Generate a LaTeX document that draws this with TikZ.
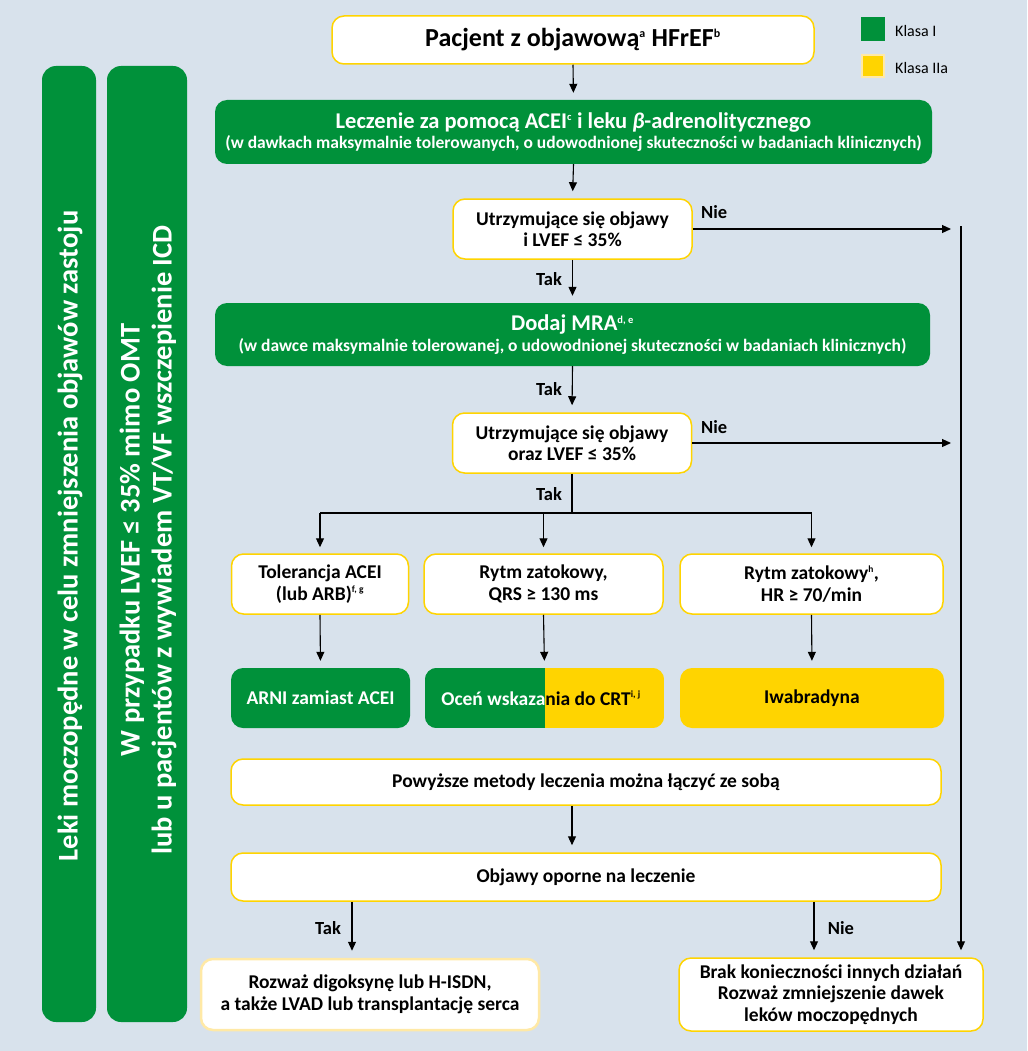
\documentclass[tikz,border=0pt]{standalone}
\usepackage{fontspec}
\setmainfont{Carlito}
\usetikzlibrary{arrows.meta}
\definecolor{bgc}{HTML}{D8E2EC}
\definecolor{gr}{HTML}{00913A}
\definecolor{ye}{HTML}{FFD400}
\definecolor{pale}{HTML}{FFE9A6}
\newcommand{\ssup}[2][9.5]{\textsuperscript{\fontsize{#1}{#1}\selectfont #2}}
\begin{document}
\begin{tikzpicture}[x=1pt,y=-1pt,
 box/.style={rounded corners=12pt, align=center, inner sep=0pt, font=\bfseries\fontsize{19.5}{21.5}\selectfont},
 wbox/.style={box, draw=ye, line width=1.5pt, fill=white, text=black},
 gbox/.style={box, fill=gr, text=white},
 ybox/.style={box, fill=ye, text=black},
 arr/.style={-{Triangle[length=9pt,width=8pt]}, line width=1.1pt, shorten >=7pt},
 ln/.style={line width=1.1pt},
 lbl/.style={font=\bfseries\fontsize{18.5}{20}\selectfont, inner sep=0pt},
 bartext/.style={rotate=90, text=white, align=center, font=\bfseries\fontsize{28.5}{32}\selectfont, inner sep=0pt},
 legtext/.style={anchor=west, font=\fontsize{16}{18}\selectfont, inner sep=0pt},
]
\fill[bgc] (0,0) rectangle (1027,1051);
\useasboundingbox (0,0) rectangle (1027,1051);

% legend
\node[fill=gr, minimum size=24pt, inner sep=0pt] (lg1) at (873,29) {};
\node[legtext] (lt1) at (895,31) {Klasa I};
\node[fill=ye, draw=pale, line width=2pt, minimum size=22pt, inner sep=0pt] (lg2) at (873,66) {};
\node[legtext] (lt2) at (895,68) {Klasa IIa};

% side bars
\node[gbox, rounded corners=14pt, minimum width=54pt, minimum height=956pt] (bar1) at (69,544) {};
\node[bartext] (bar1t) at (70,536) {Leki moczopędne w celu zmniejszenia objawów zastoju};
\node[gbox, rounded corners=14pt, minimum width=80pt, minimum height=956pt] (bar2) at (147,544) {};
\node[bartext] (bar2t) at (148,540) {W przypadku LVEF ≤ 35\% mimo OMT\\lub u pacjentów z wywiadem VT/VF wszczepienie ICD};

% main column
\node[wbox, minimum width=482pt, minimum height=48pt, font=\bfseries\fontsize{26}{28}\selectfont] (top) at (573,40)
  {Pacjent z objawową\ssup[12]{a} HFrEF\ssup[12]{b}};
\node[gbox, minimum width=717pt, minimum height=64pt] (g1) at (573.5,132)
  {{\fontsize{22.5}{24}\selectfont Leczenie za pomocą ACEI\ssup[10.5]{c} i leku \textit{β}-adrenolitycznego}\\[-1pt]
   {\fontsize{17.5}{19}\selectfont (w dawkach maksymalnie tolerowanych, o udowodnionej skuteczności w badaniach klinicznych)}};
\node[wbox, minimum width=239pt, minimum height=60pt] (d1) at (572.5,229)
  {Utrzymujące się objawy\\i LVEF ≤ 35\%};
\node[gbox, minimum width=715pt, minimum height=63pt] (g2) at (572.5,334.5)
  {{\fontsize{22.5}{24}\selectfont Dodaj MRA\ssup[10.5]{d, e}}\\[-1pt]
   {\fontsize{17.5}{19}\selectfont (w dawce maksymalnie tolerowanej, o udowodnionej skuteczności w badaniach klinicznych)}};
\node[wbox, minimum width=239pt, minimum height=60pt] (d2) at (572,443)
  {Utrzymujące się objawy\\oraz LVEF ≤ 35\%};

% three branches
\node[wbox, minimum width=177pt, minimum height=60pt] (A) at (320,584) {Tolerancja ACEI\\(lub ARB)\ssup{f, g}};
\node[wbox, minimum width=239pt, minimum height=60pt] (B) at (543.5,584) {Rytm zatokowy,\\QRS ≥ 130 ms};
\node[wbox, minimum width=263pt, minimum height=60pt] (C) at (811.5,584) {Rytm zatokowy\ssup{h},\\HR ≥ 70/min};

\node[gbox, minimum width=179pt, minimum height=60pt] (A2) at (320.5,698) {ARNI zamiast ACEI};
\node[box, minimum width=239pt, minimum height=60pt] (B2) at (544.5,698) {};
\coordinate (split) at (545,698);
\begin{scope}
  \clip[rounded corners=12pt] (B2.north west) rectangle (B2.south east);
  \fill[gr] (B2.north west) rectangle (split |- B2.south);
  \fill[ye] (split |- B2.north) rectangle (B2.south east);
\end{scope}
\begin{scope}
  \clip (B2.north west) rectangle (split |- B2.south);
  \node[box, text=white] (B2tl) at (541,698) {Oceń wskazania do CRT\ssup{i, j}};
\end{scope}
\begin{scope}
  \clip (split |- B2.north) rectangle (B2.south east);
  \node[box, text=black] (B2tr) at (541,698) {Oceń wskazania do CRT\ssup{i, j}};
\end{scope}
\node[ybox, minimum width=264pt, minimum height=60pt] (C2) at (812,698) {Iwabradyna};

\node[wbox, minimum width=710pt, minimum height=46pt] (P) at (586,782) {Powyższe metody leczenia można łączyć ze sobą};
\node[wbox, minimum width=710pt, minimum height=48pt] (O) at (586,877) {Objawy oporne na leczenie};

\node[wbox, draw=pale, line width=2.5pt, minimum width=338pt, minimum height=71pt] (BL) at (370,994.5)
  {Rozważ digoksynę lub H-ISDN,\\a także LVAD lub transplantację serca};
\node[wbox, minimum width=304pt, minimum height=73pt] (BR) at (831,994.5)
  {Brak konieczności innych działań\\Rozważ zmniejszenie dawek\\leków moczopędnych};

% connectors
\coordinate (rtop) at (961,226);
\coordinate (sp) at (572,513);
\coordinate (tk) at (352,928);
\coordinate (nk) at (814,928);

\draw[arr] (top.south) -- (g1.north);
\draw[arr] (g1.south) -- (d1.north);
\draw[arr] (d1.south) -- (g2.north);
\draw[arr] (g2.south) -- (d2.north);
\draw[arr, shorten >=10pt] (d1.east) -- (d1.east -| rtop);
\draw[arr, shorten >=10pt] (d2.east) -- (d2.east -| rtop);
\draw[arr] (rtop) -- (rtop |- BR.north);

\draw[ln] (d2.south) -- (sp);
\draw[ln] (A.north |- sp) -- (C.north |- sp);
\draw[arr, shorten >=6pt] (A.north |- sp) -- (A.north);
\draw[arr, shorten >=6pt] (B.north |- sp) -- (B.north);
\draw[arr, shorten >=6pt] (C.north |- sp) -- (C.north);

\draw[arr] (A.south) -- (A2.north);
\draw[arr] (B.south) -- (B2.north);
\draw[arr] (C.south) -- (C2.north);

\draw[arr] (P.south -| sp) -- (O.north -| sp);
\draw[arr] (O.south -| tk) -- (BL.north -| tk);
\draw[arr] (O.south -| nk) -- (BR.north -| nk);

% labels
\node[lbl, anchor=west] (nie1) at (701,212) {Nie};
\node[lbl, anchor=west] (nie2) at (701,427) {Nie};
\node[lbl] (tak1) at (549,279) {Tak};
\node[lbl] (tak2) at (549,389) {Tak};
\node[lbl] (tak3) at (549,494) {Tak};
\node[lbl] (tak4) at (328,928) {Tak};
\node[lbl] (nie3) at (841,928) {Nie};
\end{tikzpicture}
\end{document}
